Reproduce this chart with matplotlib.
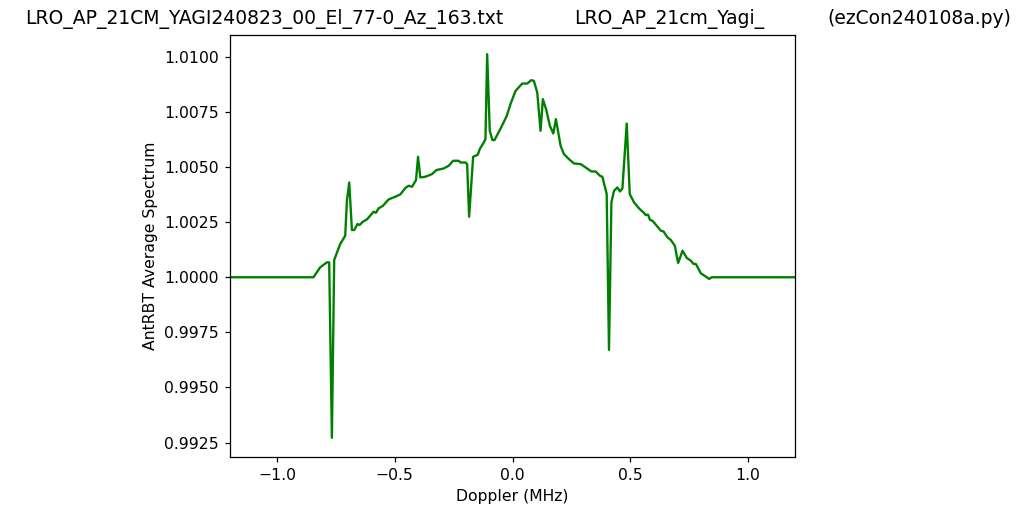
import matplotlib
matplotlib.use("Agg")
import matplotlib.pyplot as plt

# Doppler (MHz) and AntRBT average spectrum values
doppler_mhz = [
    -1.25, -0.8455, -0.8170, -0.7885, -0.7787, -0.7672, -0.7574, -0.7319, -0.7106, -0.7034,
    -0.6936, -0.6821, -0.6723, -0.6583, -0.6498, -0.6353, -0.6183, -0.5902, -0.5800, -0.5689,
    -0.5502, -0.5264, -0.4979, -0.4766, -0.4553, -0.4413, -0.4268, -0.4098, -0.4013, -0.3915,
    -0.3702, -0.3417, -0.3234, -0.2923, -0.2711, -0.2523, -0.2285, -0.2213, -0.2000, -0.1928,
    -0.1843, -0.1672, -0.1477, -0.1391, -0.1221, -0.1149, -0.1077, -0.0966, -0.0851, -0.0766,
    -0.0540, -0.0255, -0.0085, 0.0128, 0.0413, 0.0626, 0.0796, 0.0906, 0.1051, 0.1191,
    0.1289, 0.1434, 0.1587, 0.1732, 0.1843, 0.2043, 0.2183, 0.2396, 0.2609, 0.2894,
    0.3106, 0.3349, 0.3532, 0.3715, 0.3817, 0.4000, 0.4098, 0.4200, 0.4311, 0.4455,
    0.4566, 0.4668, 0.4851, 0.4979, 0.5162, 0.5374, 0.5562, 0.5660, 0.5757, 0.5843,
    0.5945, 0.6157, 0.6298, 0.6413, 0.6583, 0.6723, 0.6894, 0.7034, 0.7221, 0.7404,
    0.7574, 0.7689, 0.7787, 0.8000, 0.8213, 0.8353, 0.8455, 1.25,
]
spectrum = [
    1.000000, 1.000000, 1.000449, 1.000676, 1.000676, 0.992714, 1.000784, 1.001510, 1.001886, 1.003473,
    1.004302, 1.002144, 1.002144, 1.002416, 1.002371, 1.002521, 1.002625, 1.002974, 1.002929, 1.003124,
    1.003246, 1.003532, 1.003654, 1.003758, 1.004049, 1.004153, 1.004108, 1.004411, 1.005468, 1.004529,
    1.004561, 1.004683, 1.004865, 1.004937, 1.005060, 1.005286, 1.005286, 1.005209, 1.005209, 1.005137,
    1.002747, 1.005468, 1.005558, 1.005817, 1.006116, 1.006270, 1.010124, 1.006646, 1.006225, 1.006225,
    1.006678, 1.007295, 1.007857, 1.008460, 1.008791, 1.008791, 1.008945, 1.008913, 1.008383, 1.006646,
    1.008084, 1.007599, 1.006873, 1.006524, 1.007177, 1.005966, 1.005590, 1.005363, 1.005164, 1.005137,
    1.004983, 1.004801, 1.004801, 1.004606, 1.004561, 1.003777, 0.996704, 1.003396, 1.003926, 1.004076,
    1.003894, 1.004030, 1.006977, 1.003777, 1.003396, 1.003124, 1.002942, 1.002824, 1.002838, 1.002598,
    1.002566, 1.002294, 1.002113, 1.002081, 1.001809, 1.001691, 1.001433, 1.000648, 1.001206, 1.000875,
    1.000753, 1.000603, 1.000603, 1.000177, 1.000027, 0.999923, 1.000000, 1.000000,
]

title_left = "LRO_AP_21CM_YAGI240823_00_El_77-0_Az_163.txt"
title_mid = "LRO_AP_21cm_Yagi_"
title_right = "(ezCon240108a.py)"

DPI = 112.5
fig = plt.figure(figsize=(1024 / DPI, 517 / DPI), dpi=DPI)
ax = fig.add_axes([0.2246, 0.1161, 0.5518, 0.8162])
ax.plot(doppler_mhz, spectrum, color="green", linewidth=1.5)
ax.set_xlim(-1.2, 1.2)
ax.set_xlabel("Doppler (MHz)")
ax.set_ylabel("AntRBT Average Spectrum")
ax.yaxis.set_major_formatter(matplotlib.ticker.FormatStrFormatter("%.4f"))

fig.text(25 / 1024, 1 - 19 / 517, title_left, fontsize=12, va="center", ha="left")
fig.text(574 / 1024, 1 - 19 / 517, title_mid, fontsize=12, va="center", ha="left")
fig.text(1011 / 1024, 1 - 19 / 517, title_right, fontsize=12, va="center", ha="right")

fig.savefig("out.png", dpi=DPI)
